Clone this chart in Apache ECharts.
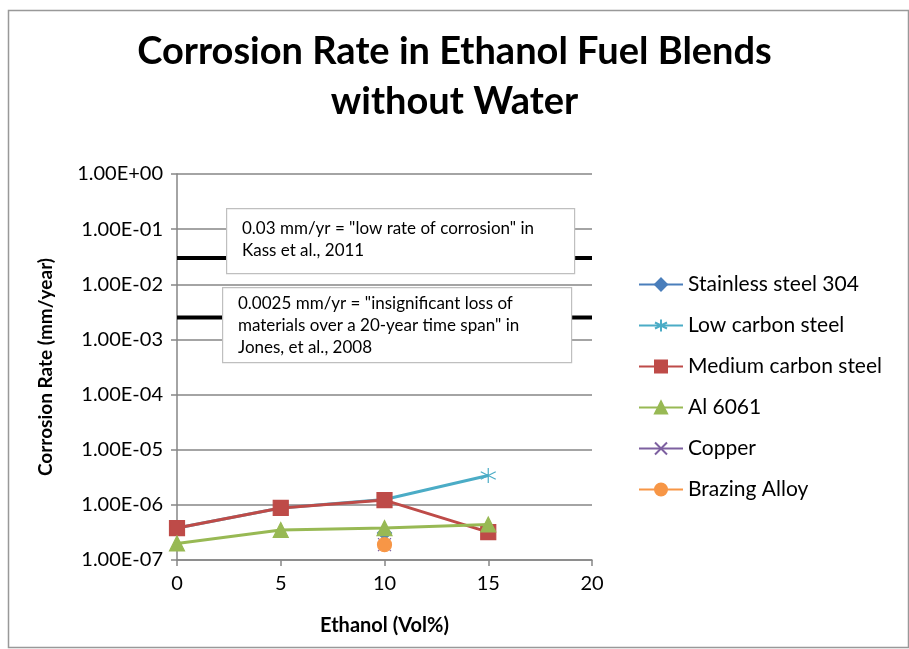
<!DOCTYPE html>
<html>
<head>
<meta charset="utf-8">
<script src="https://cdn.jsdelivr.net/npm/echarts@6/dist/echarts.min.js"></script>
<style>
  html, body { margin: 0; padding: 0; background: #fff; }
  #chart { width: 909px; height: 649px; }
</style>
</head>
<body>
<div id="chart"></div>
<script>
  // data
  var ethanol = [0, 5, 10, 15];
  var stainless = [null, null, 3.1e-7, null];
  var lowCarbon = [3.8e-7, 8.8e-7, 1.25e-6, 3.4e-6];
  var mediumCarbon = [3.8e-7, 8.8e-7, 1.22e-6, 3.2e-7];
  var al6061 = [2.0e-7, 3.5e-7, 3.8e-7, 4.4e-7];
  var copper = [null, null, 1.9e-7, null];
  var brazing = [null, null, 1.9e-7, null];

  // reference levels (mm/yr) drawn across the whole x range
  var refSpan = [0, 20];
  var kassRate = 0.03;
  var jonesRate = 0.0025;

  var xTicks = [0, 5, 10, 15, 20];
  var yMin = 1e-7, yMax = 1;

  var font = 'Lato, "Open Sans", sans-serif';

  function pairs(vals) {
    var out = [];
    for (var i = 0; i < ethanol.length; i++) {
      if (vals[i] != null) out.push([ethanol[i], vals[i]]);
    }
    return out;
  }

  // 1.00E-07 style labels
  function sciLabel(v) {
    var e = Math.round(Math.log10(v));
    var m = v / Math.pow(10, e);
    var sign = e < 0 ? '-' : '+';
    var ab = Math.abs(e);
    return m.toFixed(2) + 'E' + sign + (ab < 10 ? '0' + ab : ab);
  }

  var chart = echarts.init(document.getElementById('chart'));

  function refLine(val) {
    return {
      type: 'line',
      name: 'ref',
      data: [[refSpan[0], val], [refSpan[1], val]],
      symbol: 'none',
      lineStyle: { color: '#000', width: 4 },
      z: 1,
      silent: true
    };
  }

  function matSeries(name, vals, color, symbol, size, z) {
    return {
      type: 'line',
      name: name,
      data: pairs(vals),
      symbol: symbol,
      symbolSize: size,
      lineStyle: { color: color, width: 3 },
      itemStyle: { color: color, borderColor: color, borderWidth: 1.2 },
      z: z
    };
  }

  var starPath = 'path://M0,-10L0,10M-8.7,-5L8.7,5M-8.7,5L8.7,-5';
  var xPath = 'path://M-7,-7L7,7M-7,7L7,-7';

  var noteStyle = { fontFamily: font, fontSize: 17, lineHeight: 22, fill: '#000' };

  var option = {
    backgroundColor: '#fff',
    animation: false,
    title: {
      text: 'Corrosion Rate in Ethanol Fuel Blends\nwithout Water',
      left: 'center',
      top: 22,
      textStyle: { fontFamily: font, fontSize: 38, fontWeight: 'bold', color: '#000', lineHeight: 50 }
    },
    legend: {
      orient: 'vertical',
      left: 633,
      top: 269,
      itemWidth: 44,
      itemHeight: 15,
      itemGap: 20,
      data: ['Stainless steel 304', 'Low carbon steel', 'Medium carbon steel', 'Al 6061', 'Copper', 'Brazing Alloy'],
      textStyle: { fontFamily: font, fontSize: 21, color: '#000' }
    },
    grid: { left: 177, right: 317, top: 174, bottom: 89 },
    xAxis: {
      type: 'value',
      min: 0, max: 20, interval: 5,
      name: 'Ethanol (Vol%)',
      nameLocation: 'middle',
      nameGap: 56,
      nameTextStyle: { fontFamily: font, fontSize: 20, fontWeight: 'bold', color: '#000' },
      axisLine: { lineStyle: { color: '#868686', width: 1.5 } },
      axisTick: { length: 6, lineStyle: { color: '#868686', width: 1.5 } },
      axisLabel: { fontFamily: font, fontSize: 20, color: '#000', margin: 14,
        formatter: function (v) { return xTicks.indexOf(v) >= 0 ? String(v) : ''; } },
      splitLine: { show: false }
    },
    yAxis: {
      type: 'log',
      logBase: 10,
      min: yMin, max: yMax,
      name: 'Corrosion Rate (mm/year)',
      nameLocation: 'middle',
      nameGap: 122,
      nameTextStyle: { fontFamily: font, fontSize: 19, fontWeight: 'bold', color: '#000' },
      axisLine: { show: true, lineStyle: { color: '#868686', width: 1.5 } },
      axisTick: { show: true, length: 6, lineStyle: { color: '#868686', width: 1.5 } },
      axisLabel: { fontFamily: font, fontSize: 20, color: '#000', margin: 14, formatter: sciLabel },
      splitLine: { show: true, lineStyle: { color: '#868686', width: 1.5 } }
    },
    series: [
      refLine(kassRate),
      refLine(jonesRate),
      matSeries('Stainless steel 304', stainless, '#4A7EBB', 'diamond', 14, 2),
      matSeries('Low carbon steel', lowCarbon, '#4BACC6', starPath, 15, 3),
      matSeries('Medium carbon steel', mediumCarbon, '#BE4B48', 'rect', 15, 4),
      matSeries('Al 6061', al6061, '#98B954', 'triangle', 15, 5),
      matSeries('Copper', copper, '#7D60A0', xPath, 13, 6),
      matSeries('Brazing Alloy', brazing, '#F79646', 'circle', 14, 7)
    ],
    graphic: [
      { type: 'rect', left: 6, top: 8, shape: { width: 900, height: 637 },
        style: { fill: 'none', stroke: '#999', lineWidth: 1.5 }, z: 0, silent: true },
      { type: 'rect', left: 226, top: 208, z: 100, shape: { width: 348, height: 65 },
        style: { fill: '#fff', stroke: '#bfbfbf', lineWidth: 1.2 } },
      { type: 'text', left: 242, top: 218, z: 101,
        style: Object.assign({ text: '0.03 mm/yr = "low rate of corrosion" in\nKass et al., 2011' }, noteStyle) },
      { type: 'rect', left: 222, top: 287, z: 100, shape: { width: 349, height: 75 },
        style: { fill: '#fff', stroke: '#bfbfbf', lineWidth: 1.2 } },
      { type: 'text', left: 238, top: 293, z: 101,
        style: Object.assign({ text: '0.0025 mm/yr = "insignificant loss of\nmaterials over a 20-year time span" in\nJones, et al., 2008' }, noteStyle) }
    ]
  };

  chart.setOption(option);
</script>
</body>
</html>
